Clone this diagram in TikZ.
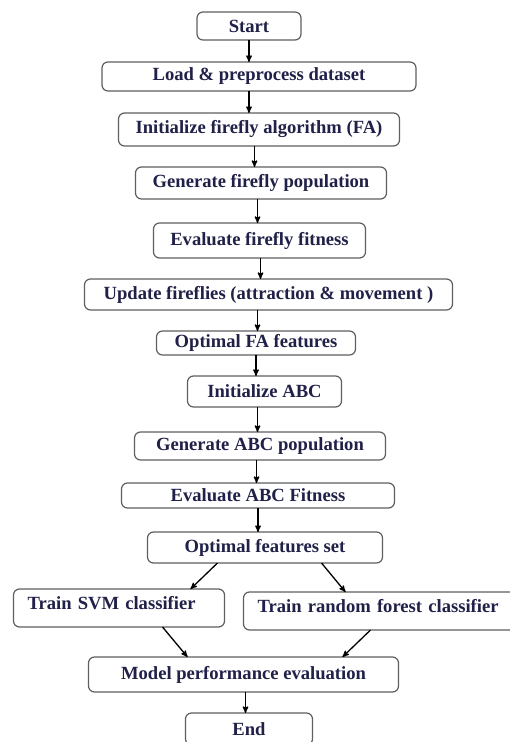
\documentclass[tikz,border=0pt]{standalone}
\usepackage{fontspec}
\setmainfont{Liberation Serif}
\usetikzlibrary{arrows,positioning}
\definecolor{txtnavy}{RGB}{32,32,72}
\definecolor{boxgray}{RGB}{95,95,95}

\begin{document}
\begin{tikzpicture}[x=1pt,y=1pt,->,>=stealth',auto,node distance=22pt,line width=1.3pt,
    block/.style = {rounded corners=6pt, draw=boxgray, line width=1.2pt, fill=white, align=center, inner sep=2pt, outer sep=0pt, text=txtnavy, font=\fontsize{18.6}{21}\selectfont\bfseries},
    sideblock/.style = {block, align=left, inner xsep=14pt, inner ysep=6pt, text height=14pt, text depth=12pt}]
            \useasboundingbox (0,0) rectangle (510,-742);
            \node[block,minimum width=104,minimum height=28] (start) at (249,-26) {Start};
            \node[block,below=of start,xshift=10pt,minimum width=314,minimum height=29] (load) {Load \& preprocess dataset};
            \node[block,below=of load,minimum width=281,minimum height=33] (initfa) {Initialize firefly algorithm (FA)};
            \node[block,below=21pt of initfa,xshift=2pt,minimum width=251,minimum height=32] (genfa) {Generate firefly population};
            \node[block,below=24pt of genfa,xshift=-1.5pt,minimum width=212,minimum height=35] (evalfa) {Evaluate firefly fitness};
            \node[block,below=21pt of evalfa,xshift=9pt,minimum width=368,minimum height=31] (update) {Update fireflies (attraction \& movement )};
            \node[block,below=21pt of update,xshift=-12.5pt,minimum width=199,minimum height=24] (optfa) {Optimal FA features};
            \node[block,below=21pt of optfa,xshift=8.5pt,minimum width=154,minimum height=31] (initabc) {Initialize ABC};
            \node[block,below=25pt of initabc,xshift=-4.5pt,minimum width=251,minimum height=28] (genabc) {Generate ABC population};
            \node[block,below=23pt of genabc,xshift=-2pt,minimum width=273,minimum height=25] (evalabc) {Evaluate ABC Fitness};
            \node[block,below=24pt of evalabc,xshift=7pt,minimum width=235,minimum height=31] (optset) {Optimal features set};
            \node[sideblock,below=26pt of optset,xshift=-146pt,text width=183pt] (svm) {Train SVM classifier};
            \node[sideblock,below=29pt of optset,xshift=116pt,text width=247pt] (rf) {Train random forest classifier};
            \node[block,below=30pt of svm,xshift=124.5pt,minimum width=310,minimum height=35] (model) {Model performance evaluation};
            \node[block,below=21pt of model,xshift=5.5pt,minimum width=127,minimum height=32] (end) {End};
            \path (start) edge (start |- load.north)
                        ([xshift=-10pt]load.south) edge ([xshift=-10pt]load.south |- initfa.north)
                        ([xshift=-4.5pt]initfa.south) edge ([xshift=-4.5pt]initfa.south |- genfa.north)
                        ([xshift=-3.5pt]genfa.south) edge ([xshift=-3.5pt]genfa.south |- evalfa.north)
                        ([xshift=1pt]evalfa.south) edge ([xshift=1pt]evalfa.south |- update.north)
                        ([xshift=-11pt]update.south) edge ([xshift=-11pt]update.south |- optfa.north)
                        (optfa) edge (optfa |- initabc.north)
                        ([xshift=-7pt]initabc.south) edge ([xshift=-7pt]initabc.south |- genabc.north)
                        ([xshift=-3.5pt]genabc.south) edge ([xshift=-3.5pt]genabc.south |- evalabc.north)
                        (evalabc) edge (evalabc |- optset.north)
                        ([xshift=-47.5pt]optset.south) edge ([xshift=71.5pt]svm.north)
                        ([xshift=56.5pt]optset.south) edge ([xshift=-35.5pt]rf.north)
                        ([xshift=43.5pt]svm.south) edge ([xshift=-56pt]model.north)
                        ([xshift=-10.5pt]rf.south) edge ([xshift=99pt]model.north)
                        ([xshift=2pt]model.south) edge ([xshift=2pt]model.south |- end.north);
    \end{tikzpicture}
\end{document}
